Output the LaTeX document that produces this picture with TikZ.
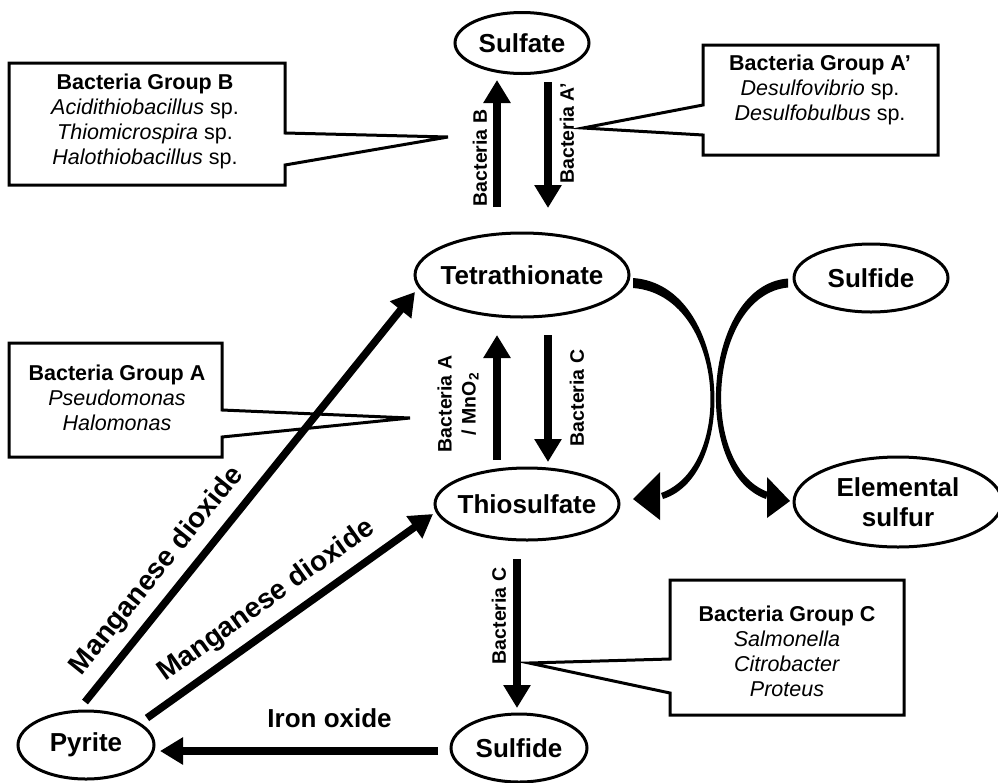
\documentclass[tikz,border=0pt]{standalone}
\usepackage{fontspec}
\setmainfont{Liberation Sans}
\usetikzlibrary{arrows.meta,shapes.geometric,calc}
\begin{document}
\begin{tikzpicture}[x=1pt,y=-1pt,
  chem/.style={ellipse,draw,line width=3pt,inner sep=0pt,font=\fontsize{26}{30}\selectfont\bfseries,align=center},
  flow/.style={line width=7.5pt,-{Triangle[width=26pt,length=23pt]}},
  blab/.style={font=\fontsize{19.5}{24}\selectfont\bfseries,rotate=90,inner sep=0pt,align=center},
  bigl/.style={font=\fontsize{26}{30}\selectfont\bfseries,inner sep=0pt},
  mnl/.style={font=\fontsize{28}{32}\selectfont\bfseries,inner sep=0pt},
  callout/.style={draw,line width=3pt,line join=miter},
  boxtext/.style={font=\fontsize{21.5}{25}\selectfont,align=center,inner sep=0pt},
]
\useasboundingbox (0,0) rectangle (998,782);

% chemical species
\node[chem,minimum width=134pt,minimum height=61pt] (sulfate) at (522,43) {\makebox[0pt]{Sulfate}};
\node[chem,minimum width=214pt,minimum height=84pt] (tetra) at (522,275) {\makebox[0pt]{Tetrathionate}};
\node[chem,minimum width=184pt,minimum height=72pt] (thio) at (527,504) {\makebox[0pt]{Thiosulfate}};
\node[chem,minimum width=154pt,minimum height=68pt] (sulfideR) at (871,278) {\makebox[0pt]{Sulfide}};
\node[chem,minimum width=208pt,minimum height=90pt] (elem) at (898,502) {\makebox[0pt]{Elemental}\\\makebox[0pt]{sulfur}};
\node[chem,minimum width=136pt,minimum height=68pt] (sulfideB) at (519,748) {\makebox[0pt]{Sulfide}};
\node[chem,minimum width=136pt,minimum height=68pt] (pyrite) at (86,745) {\makebox[0pt]{Pyrite}};

% callout boxes
\coordinate (tipB) at (448,137);
\coordinate (tipAp) at (583,128);
\coordinate (tipA) at (410,418);
\coordinate (tipC) at (529,663);
\draw[callout] (9,63) -- (285,63) -- (285,133) -- (tipB) -- (285,165) -- (285,185) -- (9,185) -- cycle;
\draw[callout] (703,45) -- (938,45) -- (938,155) -- (703,155) -- (703,135) -- (tipAp) -- (703,105) -- cycle;
\draw[callout] (9,343) -- (222,343) -- (222,410) -- (tipA) -- (222,437) -- (222,457) -- (9,457) -- cycle;
\draw[callout] (670,580) -- (904,580) -- (904,715) -- (670,715) -- (670,693) -- (tipC) -- (670,659) -- cycle;

\node[boxtext] (grpB) at (145,121) {{\bfseries Bacteria Group B}\\\textit{Acidithiobacillus} sp.\\\textit{Thiomicrospira} sp.\\\textit{Halothiobacillus} sp.};
\node[boxtext] (grpAp) at (820,90) {{\bfseries Bacteria Group A’}\\\textit{Desulfovibrio} sp.\\\textit{Desulfobulbus} sp.};
\node[boxtext] (grpA) at (117,398) {{\bfseries Bacteria Group A}\\\textit{Pseudomonas}\\\textit{Halomonas}};
\node[boxtext] (grpC) at (787,651) {{\bfseries Bacteria Group C}\\\textit{Salmonella}\\\textit{Citrobacter}\\\textit{Proteus}};

% arrow end points
\coordinate (bS) at (497,207);  \coordinate (bE) at (497,80);
\coordinate (apS) at (548,82);  \coordinate (apE) at (548,208);
\coordinate (aS) at (497,460);  \coordinate (aE) at (497,335);
\coordinate (cS) at (548,335);  \coordinate (cE) at (548,462);
\coordinate (c2S) at (517,559); \coordinate (c2E) at (517,708);
\coordinate (ironS) at (438,751); \coordinate (ironE) at (160,751);
\coordinate (mn1S) at (85,702); \coordinate (mn1E) at (415,292);
\coordinate (mn2S) at (147,718); \coordinate (mn2E) at (433,514);

\draw[flow] (bS) -- (bE);
\draw[flow] (apS) -- (apE);
\draw[flow] (aS) -- (aE);
\draw[flow] (cS) -- (cE);
\draw[flow] (c2S) -- (c2E);
\draw[flow] (ironS) -- node[bigl,pos=0.39,above=20pt] (ironL) {Iron oxide} (ironE);
\draw[flow] (mn1S) -- node[mnl,sloped,pos=0.28,above=9pt] (mn1L) {Manganese dioxide} (mn1E);
\draw[flow] (mn2S) -- node[mnl,sloped,pos=0.47,above=9pt] (mn2L) {Manganese dioxide} (mn2E);

% vertical labels
\node[blab] (labB) at (480,158) {Bacteria B};
\node[blab] (labAp) at (567,133) {Bacteria A’};
\node[blab] (labA) at (458,404) {Bacteria A\\/ MnO\textsubscript{2}};
\node[blab] (labC1) at (577,398) {Bacteria C};
\node[blab] (labC2) at (499,616) {Bacteria C};

% curved arrows
\fill (633,278) .. controls (731,285) and (740,475) .. (663,499) -- (661,493) .. controls (736,466) and (725,295) .. (633,288) -- cycle;
\fill (660,472) -- (660,520) -- (633,499) -- cycle;
\fill (788,278.5) .. controls (703,285) and (690,472) .. (766,499) -- (768,492) .. controls (697,466) and (709,295) .. (788,287.5) -- cycle;
\fill (767,477) -- (767,518) -- (790,501) -- cycle;
\end{tikzpicture}
\end{document}
